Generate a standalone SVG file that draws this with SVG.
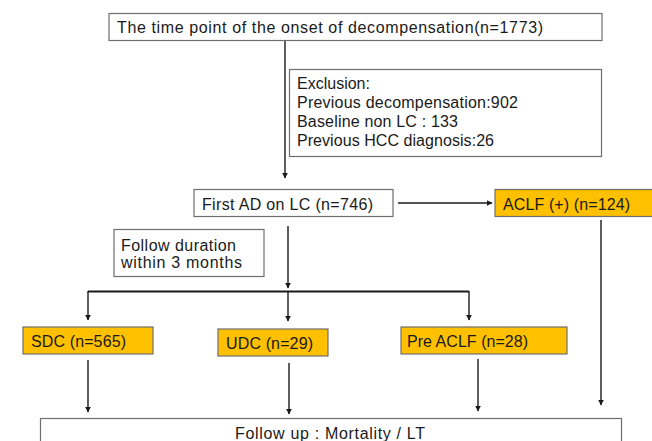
<svg xmlns="http://www.w3.org/2000/svg" width="652" height="441" viewBox="0 0 652 441">
<style>
text{font-family:"Liberation Sans",Arial,sans-serif;font-size:16px;fill:#1a1a1a}
.wb{fill:#fff;stroke:#6e6e6e;stroke-width:1.2}
.ob{fill:#ffc000;stroke:#6e6e6e;stroke-width:1.2}
.ln{fill:none;stroke:#1a1a1a;stroke-width:1.4}
</style>
<defs>
<marker id="ah" viewBox="0 0 10 10" refX="9" refY="5" markerWidth="6" markerHeight="6" markerUnits="userSpaceOnUse" orient="auto">
<path d="M0,0 L10,5 L0,10 z" fill="#1a1a1a"/>
</marker>
</defs>
<rect width="652" height="441" fill="#fff"/>
<g id="connectors">
<line class="ln" x1="285" y1="40" x2="285" y2="178" marker-end="url(#ah)"/>
<line class="ln" x1="398" y1="203" x2="492" y2="203" marker-end="url(#ah)"/>
<line class="ln" x1="288" y1="226" x2="288" y2="288" marker-end="url(#ah)"/>
<line class="ln" x1="88" y1="291.5" x2="469" y2="291.5" style="stroke-width:1.8"/>
<line class="ln" x1="88" y1="291" x2="88" y2="320" marker-end="url(#ah)"/>
<line class="ln" x1="288" y1="291" x2="288" y2="321" marker-end="url(#ah)"/>
<line class="ln" x1="469" y1="291" x2="469" y2="320" marker-end="url(#ah)"/>
<line class="ln" x1="601" y1="220" x2="601" y2="405" marker-end="url(#ah)"/>
<line class="ln" x1="88" y1="360" x2="88" y2="412" marker-end="url(#ah)"/>
<line class="ln" x1="289" y1="363" x2="289" y2="414" marker-end="url(#ah)"/>
<line class="ln" x1="478" y1="359" x2="478" y2="411" marker-end="url(#ah)"/>
</g>
<g id="onset">
<rect class="wb" x="109" y="13.5" width="493" height="27"/>
<text x="117" y="33" textLength="426" lengthAdjust="spacing">The time point of the onset of decompensation(n=1773)</text>
</g>
<g id="exclusion">
<rect class="wb" x="289.5" y="69.5" width="312" height="87"/>
<text x="297" y="89">Exclusion:</text>
<text x="297" y="108" textLength="221" lengthAdjust="spacing">Previous decompensation:902</text>
<text x="297" y="127" textLength="161" lengthAdjust="spacing">Baseline non LC : 133</text>
<text x="297" y="146" textLength="197" lengthAdjust="spacing">Previous HCC diagnosis:26</text>
</g>
<g id="firstAD">
<rect class="wb" x="194" y="189.5" width="199" height="27"/>
<text x="202" y="210" textLength="171" lengthAdjust="spacing">First AD on LC (n=746)</text>
</g>
<g id="aclf">
<rect class="ob" x="495" y="189.5" width="170" height="27"/>
<text x="503" y="210" textLength="127" lengthAdjust="spacing">ACLF (+) (n=124)</text>
</g>
<g id="followDuration">
<rect class="wb" x="114" y="229.5" width="150" height="47"/>
<text x="121" y="251" textLength="115" lengthAdjust="spacing">Follow duration</text>
<text x="121" y="268" textLength="121" lengthAdjust="spacing">within 3 months</text>
</g>
<g id="sdc">
<rect class="ob" x="23" y="327" width="130" height="27"/>
<text x="31" y="347" textLength="95" lengthAdjust="spacing">SDC (n=565)</text>
</g>
<g id="udc">
<rect class="ob" x="218" y="329" width="110" height="27"/>
<text x="226" y="349" textLength="87" lengthAdjust="spacing">UDC (n=29)</text>
</g>
<g id="preACLF">
<rect class="ob" x="401" y="327" width="166" height="27"/>
<text x="407" y="347" textLength="121" lengthAdjust="spacing">Pre ACLF (n=28)</text>
</g>
<g id="followUp">
<rect class="wb" x="40.5" y="418.5" width="581" height="30"/>
<text x="235" y="439" textLength="190" lengthAdjust="spacing">Follow up : Mortality / LT</text>
</g>
</svg>
